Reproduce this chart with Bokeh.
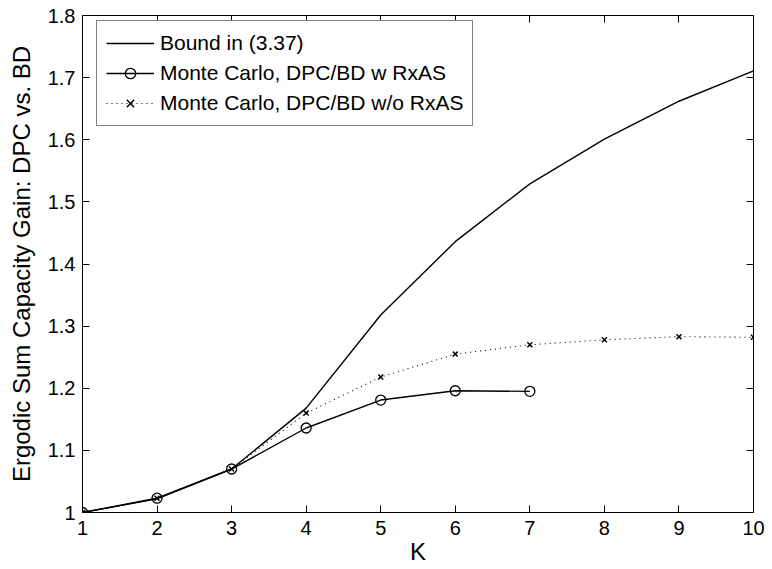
from bokeh.plotting import figure
from bokeh.models import (LinearAxis, FixedTicker, Legend, LegendItem, Range1d,
                          CustomLabelingPolicy)
from bokeh.embed import file_html
from bokeh.resources import INLINE

K = [1, 2, 3, 4, 5, 6, 7, 8, 9, 10]
bound = [1.0, 1.022, 1.070, 1.168, 1.318, 1.436, 1.529, 1.601, 1.662, 1.711]
K_rxas = [1, 2, 3, 4, 5, 6, 7]
mc_rxas = [1.0, 1.023, 1.070, 1.136, 1.181, 1.196, 1.195]
mc_norxas = [1.0, 1.023, 1.070, 1.160, 1.218, 1.255, 1.270, 1.278, 1.283, 1.282]

x_ticks = [1, 2, 3, 4, 5, 6, 7, 8, 9, 10]
y_ticks = [1.0, 1.1, 1.2, 1.3, 1.4, 1.5, 1.6, 1.7, 1.8]
y_tick_labels = ["1", "1.1", "1.2", "1.3", "1.4", "1.5", "1.6", "1.7", "1.8"]

FONT = "Liberation Sans"

p = figure(width=772, height=569, output_backend="svg", toolbar_location=None,
           x_range=Range1d(1, 10), y_range=Range1d(1, 1.8),
           min_border_left=82, min_border_right=19, min_border_top=15,
           min_border_bottom=57)
p.background_fill_color = "white"
p.border_fill_color = "white"
p.outline_line_color = "black"
p.outline_line_width = 1
p.xgrid.visible = False
p.ygrid.visible = False

no_labels = CustomLabelingPolicy(code="""
    for (const i of Array.from(indices)) { indices.unset(i) }
    return indices
""")

def style_axis(ax, labels=True):
    ax.axis_line_color = "black"
    ax.axis_line_width = 1
    ax.major_tick_line_color = "black"
    ax.major_tick_in = 7
    ax.major_tick_out = 0
    ax.minor_tick_line_color = None
    if labels:
        ax.major_label_text_font = FONT
        ax.major_label_text_font_size = "20px"
        ax.major_label_text_color = "black"
    else:
        ax.major_label_policy = no_labels
        ax.major_label_standoff = 0

xa = p.xaxis[0]
ya = p.yaxis[0]
xa.ticker = FixedTicker(ticks=x_ticks)
ya.ticker = FixedTicker(ticks=y_ticks)
ya.major_label_overrides = {t: s for t, s in zip(y_ticks, y_tick_labels)}
style_axis(xa)
style_axis(ya)
xa.major_label_standoff = 8
ya.major_label_standoff = 7
xa.axis_label = "K"
ya.axis_label = "Ergodic Sum Capacity Gain: DPC vs. BD"
for ax in (xa, ya):
    ax.axis_label_text_font = FONT
    ax.axis_label_text_font_size = "24px"
    ax.axis_label_text_font_style = "normal"
    ax.axis_label_text_color = "black"
xa.axis_label_standoff = 0
ya.axis_label_standoff = 10

top = LinearAxis(ticker=FixedTicker(ticks=x_ticks))
style_axis(top, labels=False)
p.add_layout(top, "above")
right = LinearAxis(ticker=FixedTicker(ticks=y_ticks))
style_axis(right, labels=False)
p.add_layout(right, "right")

r_bound = p.line(K, bound, line_color="black", line_width=1.4)
r_l1 = p.line(K_rxas, mc_rxas, line_color="black", line_width=1.4)
r_m1 = p.scatter(K_rxas, mc_rxas, marker="circle", size=10, fill_color=None,
                 line_color="black", line_width=1.3)
r_l2 = p.line(K, mc_norxas, line_color="black", line_width=1.1, line_dash="1 4")
r_m2 = p.scatter(K, mc_norxas, marker="x", size=7, line_color="black", line_width=1.5)

legend = Legend(items=[
    LegendItem(label="Bound in (3.37)", renderers=[r_bound]),
    LegendItem(label="Monte Carlo, DPC/BD w RxAS", renderers=[r_l1, r_m1]),
    LegendItem(label="Monte Carlo, DPC/BD w/o RxAS", renderers=[r_l2, r_m2]),
])
legend.location = (14, 497 - 7 - 104)
legend.padding = 9
legend.margin = 0
legend.spacing = 4
legend.label_height = 26
legend.glyph_height = 26
legend.glyph_width = 48
legend.label_standoff = 6
legend.label_text_font = FONT
legend.label_text_font_size = "21px"
legend.label_text_color = "black"
legend.border_line_color = "black"
legend.border_line_width = 1
legend.background_fill_color = "white"
legend.background_fill_alpha = 1
p.add_layout(legend, "center")

open("out.html", "w").write(file_html(p, INLINE))
